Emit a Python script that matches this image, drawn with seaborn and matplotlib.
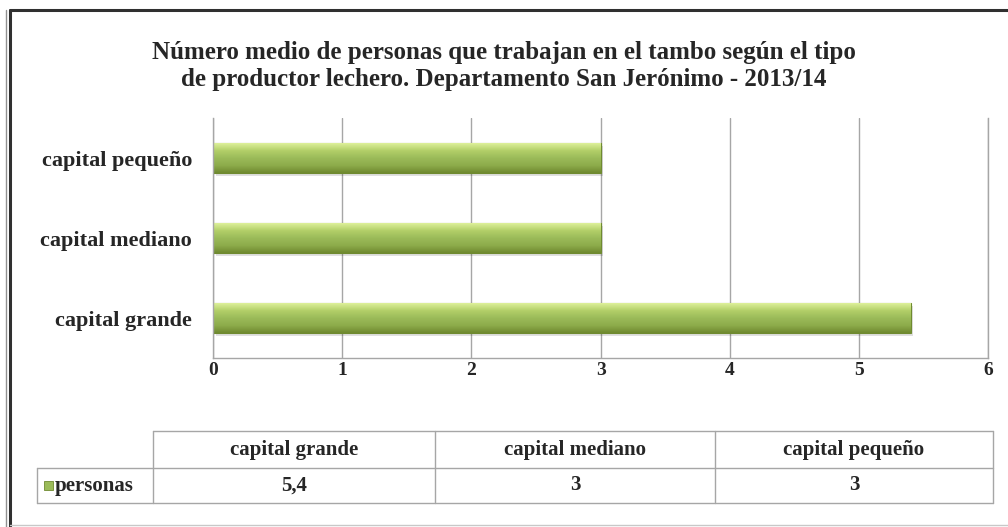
import numpy as np
import pandas as pd
import matplotlib.pyplot as plt
import matplotlib.patches as patches
from matplotlib.colors import LinearSegmentedColormap
import seaborn as sns

# Datos
categorias = ["capital pequeño", "capital mediano", "capital grande"]
personas = [3, 3, 5.4]
categorias_tabla = ["capital grande", "capital mediano", "capital pequeño"]
valores_tabla = ["5,4", "3", "3"]
serie = "personas"
ticks_x = [0, 1, 2, 3, 4, 5, 6]

titulo = ("Número medio de personas que trabajan en el tambo según el tipo\n"
          "de productor lechero. Departamento San Jerónimo - 2013/14")

df = pd.DataFrame({"categoria": categorias, "personas": personas})

sns.set_style("white")
plt.rcParams["font.family"] = ["Liberation Serif", "DejaVu Serif"]
plt.rcParams["font.weight"] = "bold"

verde = "#9BBB59"
gris = "#A6A6A6"

fig = plt.figure(figsize=(10.08, 5.27), dpi=100)
ax = fig.add_axes([0.2113, 0.3207, 0.769, 0.455])

sns.barplot(data=df, y="categoria", x="personas", order=categorias,
            color=verde, width=0.375, edgecolor="#6F8A30", linewidth=0.8,
            saturation=1, ax=ax)

# degradado tipo Excel sobre cada barra
degradado = LinearSegmentedColormap.from_list(
    "verde", ["#DDF09A", "#B2CF68", "#9BBB59", "#8DAC4B", "#6F8A30"])
grad = np.linspace(0, 1, 64).reshape(-1, 1)
for barra in list(ax.patches):
    x0, y0 = barra.get_x(), barra.get_y()
    w, h = barra.get_width(), barra.get_height()
    img = ax.imshow(grad, cmap=degradado, aspect="auto",
                    extent=(x0, x0 + w, y0 + h, y0), origin="upper",
                    zorder=barra.get_zorder() + 0.1)
    img.set_clip_path(barra)
    sombra = patches.Rectangle((x0 + 0.02, y0 + 0.04), w, h, facecolor="#000000",
                               alpha=0.12, edgecolor="none",
                               zorder=barra.get_zorder() - 0.1)
    ax.add_patch(sombra)

ax.set_xlim(0, 6)
ax.set_ylim(2.5, -0.5)
ax.set_xticks(ticks_x)
ax.set_xticklabels([str(t) for t in ticks_x], fontsize=14, fontweight="bold")
ax.tick_params(axis="x", length=0, pad=3)
ax.tick_params(axis="y", length=0, pad=15)
for lbl in ax.get_yticklabels():
    lbl.set_fontsize(16)
    lbl.set_fontweight("bold")
ax.set_xlabel("")
ax.set_ylabel("")
ax.grid(axis="x", color=gris, linewidth=1.0)
ax.set_axisbelow(True)
ax.spines["top"].set_visible(False)
for lado in ["left", "bottom", "right"]:
    ax.spines[lado].set_color(gris)
    ax.spines[lado].set_linewidth(1.0)

fig.text(0.5, 0.875, titulo, ha="center", va="center", fontsize=18,
         fontweight="bold", linespacing=1.25)

# Tabla de datos (coordenadas en pixeles de la figura)
tax = fig.add_axes([0, 0, 1, 1])
tax.set_xlim(0, 1008)
tax.set_ylim(527, 0)
tax.axis("off")
cols = [153, 435, 715, 993]
filas = [431, 468, 503]
izq = 37
lc = dict(color=gris, linewidth=1.0)
tax.plot([cols[0], cols[-1]], [filas[0], filas[0]], **lc)
tax.plot([izq, cols[-1]], [filas[1], filas[1]], **lc)
tax.plot([izq, cols[-1]], [filas[2], filas[2]], **lc)
tax.plot([izq, izq], [filas[1], filas[2]], **lc)
for cx in cols:
    tax.plot([cx, cx], [filas[0], filas[2]], **lc)
for i, (cat, val) in enumerate(zip(categorias_tabla, valores_tabla)):
    xm = (cols[i] + cols[i + 1]) / 2
    tax.text(xm, (filas[0] + filas[1]) / 2, cat, ha="center", va="center",
             fontsize=15, fontweight="bold")
    tax.text(xm, (filas[1] + filas[2]) / 2, val, ha="center", va="center",
             fontsize=15, fontweight="bold")
tax.add_patch(patches.Rectangle((44, 481), 9, 9, facecolor=verde,
                                edgecolor="#6F8A30", linewidth=0.6))
tax.text(55, (filas[1] + filas[2]) / 2, serie, ha="left", va="center",
         fontsize=15, fontweight="bold")

# Marco exterior
tax.plot([10, 1008], [10, 10], color="#303030", linewidth=2.2)
tax.plot([10, 10], [10, 527], color="#303030", linewidth=2.2)
tax.plot([6, 6], [10, 527], color="#909090", linewidth=1.0)
tax.plot([10, 1008], [525, 525], color="#C8C8C8", linewidth=1.0)

fig.savefig("out.png", dpi=100)
